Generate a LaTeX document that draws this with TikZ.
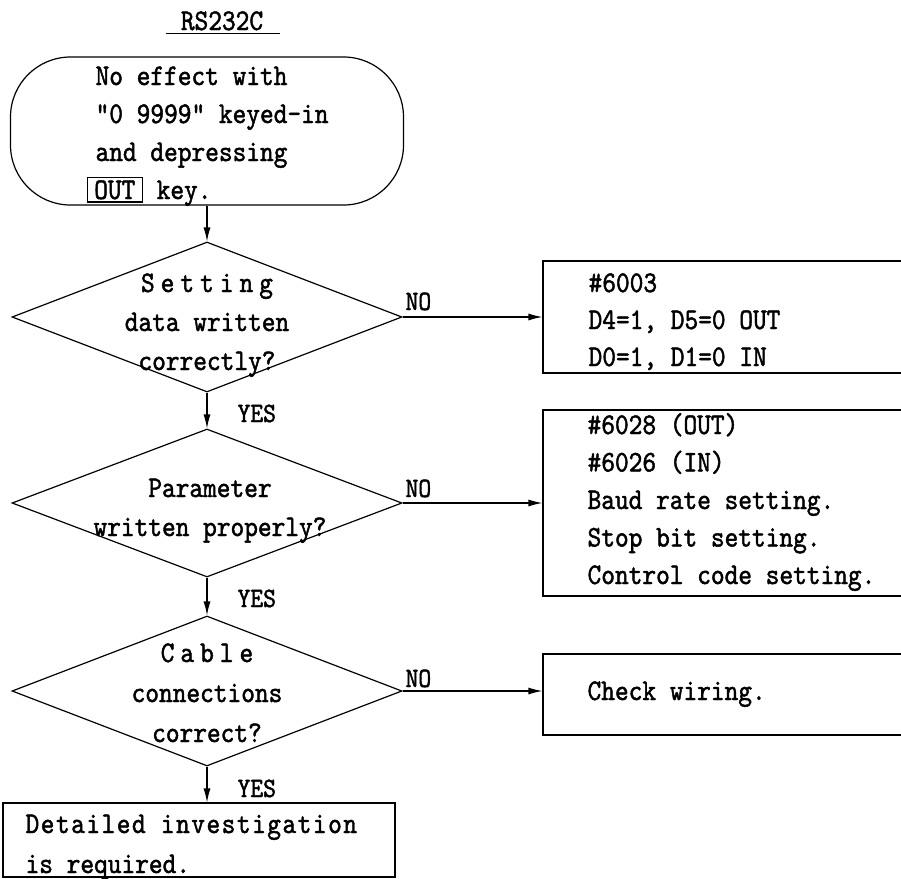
\documentclass[tikz,border=0pt]{standalone}
\usepackage{fontspec}
\usetikzlibrary{shapes.geometric,arrows.meta}
\newfontfamily\flowfont[FakeStretch=0.87,FakeBold=1.5]{lmmono10-regular.otf}
\newfontfamily\flowspaced[FakeStretch=0.87,FakeBold=1.5,LetterSpace=20]{lmmono10-regular.otf}
\newfontfamily\flowwide[FakeStretch=0.87,FakeBold=1.5,LetterSpace=5]{lmmono10-regular.otf}
\newcommand\flowlines[2][l]{\begin{tabular}[t]{@{}#1@{}}#2\end{tabular}}
\setlength\fboxsep{2pt}
\setlength\fboxrule{1.2pt}
\begin{document}
\begin{tikzpicture}[x=1pt,y=-1pt,line width=1.2pt,
  arr/.style={-{Latex[length=14pt,width=7pt]}},
  shp/.style={draw,inner sep=0pt},
  term/.style={shp,rectangle,rounded corners=60pt,minimum width=393pt,minimum height=148pt},
  dia/.style={shp,diamond,minimum width=390pt,minimum height=150pt},
  boxr/.style={shp,rectangle},
  ltxt/.style={inner sep=0pt,anchor=base west},
  ctxt/.style={inner sep=0pt,anchor=base},
  f38/.style={font=\flowfont\fontsize{30}{38}\selectfont},
  f39/.style={font=\flowfont\fontsize{30}{39}\selectfont},
  f40/.style={font=\flowfont\fontsize{30}{40}\selectfont},
  f37/.style={font=\flowfont\fontsize{30}{37}\selectfont},
  f375/.style={font=\flowfont\fontsize{30}{37.5}\selectfont},
  lbl/.style={inner sep=0pt,anchor=base west,font=\flowfont\fontsize{28}{34}\selectfont}]
\useasboundingbox (0,0) rectangle (901,878);

% title
\node[ctxt,f38] (title) at (222,30) {RS232C};
\draw[line width=1pt] ([xshift=-14pt,yshift=-3.5pt]title.base west) -- ([xshift=16pt,yshift=-3.5pt]title.base east);

% terminal
\node[term] (t) at (207,131) {};
\node[ltxt,f38] (tt) at (95,85) {\flowlines{No effect with\\“0 9999” keyed-in\\and depressing\\\hspace*{-9pt}\fbox{\makebox[50pt]{OUT}}~key.}};

% decisions
\node[dia] (d1) at (207,317) {};
\node[ctxt,f39] (d1t) at (207,292) {\flowlines[c]{{\flowspaced Setting}\\data written\\correctly?}};
\node[dia,minimum height=148pt] (d2) at (207,503) {};
\node[ctxt,f39] (d2t) at (210,497) {\flowlines[c]{Parameter\\written properly?}};
\node[dia] (d3) at (207,691) {};
\node[ctxt,f40] (d3t) at (207,662) {\flowlines[c]{{\flowspaced Cable}\\connections\\correct?}};

% process boxes
\node[boxr,minimum width=367pt,minimum height=112pt] (b1) at (726.5,317) {};
\node[ltxt,f37] (b1t) at (588,292) {\flowlines{\#6003\\D4=1, D5=0 OUT\\D0=1, D1=0 IN}};
\node[boxr,minimum width=367pt,minimum height=186pt] (b2) at (726.5,503) {};
\node[ltxt,f375] (b2t) at (587,434) {\flowlines{\#6028 (OUT)\\\#6026 (IN)\\Baud rate setting.\\Stop bit setting.\\Control code setting.}};
\node[boxr,minimum width=367pt,minimum height=81pt] (b3) at (726.5,694.5) {};
\node[ltxt,f38] (b3t) at (587,700) {Check wiring.};
\node[boxr,minimum width=392pt,minimum height=74pt] (fb) at (199,840) {};
\node[ltxt,f40] (fbt) at (25,833) {\flowlines{{\flowwide Detailed investigation}\\is required.}};

% labels
\node[lbl] (n1) at (405,310) {NO};
\node[lbl] (n2) at (405,497) {NO};
\node[lbl] (n3) at (405,687) {NO};
\node[lbl] (y1) at (237,422) {YES};
\node[lbl] (y2) at (237,607) {YES};
\node[lbl] (y3) at (237,797) {YES};

% connectors
\draw[arr] (t.south) -- (d1.north);
\draw[arr] (d1.south) -- (d2.north);
\draw[arr] (d2.south) -- (d3.north);
\draw[arr] (d3.south) -- (d3.south |- fb.north);
\draw[arr] (d1.east) -- (d1.east -| b1.west);
\draw[arr] (d2.east) -- (d2.east -| b2.west);
\draw[arr] (d3.east) -- (d3.east -| b3.west);
\end{tikzpicture}
\end{document}
